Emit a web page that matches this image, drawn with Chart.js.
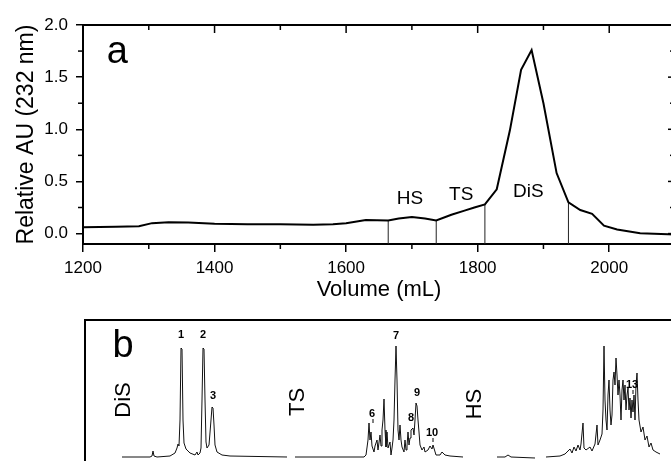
<!DOCTYPE html>
<html>
<head>
<meta charset="utf-8">
<script src="https://cdn.jsdelivr.net/npm/chart.js@4.4.1/dist/chart.umd.min.js"></script>
<style>
    html, body { margin: 0; padding: 0; background: #fff; overflow: hidden; width: 671px; height: 461px; }
    #wrapA { position: absolute; left: 0; top: 0; }
    #wrapB { position: absolute; left: 0; top: 300px; }
</style>
</head>
<body>
<div id="wrapA"><canvas id="elutionChart" width="676" height="310"></canvas></div>
<div id="wrapB"><canvas id="saxChart" width="676" height="175"></canvas></div>
<script>
// ---- panel a : gel filtration profile ----
const volume     = [1200, 1250, 1285, 1305, 1330, 1360, 1400, 1450, 1500, 1550, 1580, 1600, 1630, 1664, 1680, 1700, 1720, 1737, 1760, 1780, 1795, 1811, 1829, 1849, 1866, 1882, 1900, 1920, 1938, 1956, 1974, 1992, 2012, 2047, 2100];
const absorbance = [0.06, 0.065, 0.07, 0.1, 0.108, 0.105, 0.095, 0.09, 0.09, 0.085, 0.09, 0.1, 0.13, 0.125, 0.145, 0.16, 0.145, 0.125, 0.18, 0.22, 0.25, 0.28, 0.425, 0.99, 1.57, 1.76, 1.25, 0.58, 0.30, 0.226, 0.19, 0.076, 0.04, 0.003, -0.01];

const cutVolume = [1664, 1737, 1811, 1938];
const cutTop    = [0.125, 0.125, 0.28, 0.30];

const xTicks      = [1200, 1400, 1600, 1800, 2000];
const xMinorTicks = [1300, 1500, 1700, 1900, 2100];
const yTicks      = [0, 0.5, 1.0, 1.5, 2.0];
const yMinorTicks = [0.25, 0.75, 1.25, 1.75];

const aLabels = ['a', 'HS', 'TS', 'DiS'];
const aLabelX = [1252, 1697, 1775, 1877];
const aLabelY = [1.636, 0.284, 0.322, 0.351];

// ---- panel b : SAX-HPLC traces of the pooled fractions ----
const disX = [37, 65, 67, 68, 69, 72, 85, 90, 92, 93, 94, 95, 96, 97, 98, 99, 101, 105, 110, 112, 113, 115, 116, 117, 118, 119, 120, 121, 122, 124, 126, 127, 128, 129, 130, 132, 137, 145, 202];
const disY = [0, 0, 1, 6, 1, 0, 1, 4, 9, 13, 11, 37, 109, 108, 37, 14, 8, 4, 2, 5, 2, 4, 9, 57, 109, 108, 57, 15, 9, 12, 37, 50, 49, 32, 12, 5, 2, 1, 0];

const tsX = [210, 279, 281, 283, 284, 285, 286, 287, 289, 290, 292, 293, 295, 296, 297, 298, 299, 300, 301, 302, 303, 305, 306, 307, 308, 309, 310, 311, 312, 313, 314, 315, 316, 317, 319, 320, 321, 322, 323, 324, 325, 326, 328, 329, 330, 331, 332, 333, 334, 335, 337, 339, 340, 343, 345, 347, 348, 351, 355, 357, 360, 365, 378];
const tsY = [0, 0, 2, 17, 34, 17, 25, 11, 5, 11, 17, 7, 22, 11, 27, 37, 58, 27, 10, 25, 9, 15, 2, 9, 17, 37, 77, 111, 77, 27, 17, 32, 17, 10, 5, 17, 7, 11, 25, 12, 19, 27, 29, 22, 37, 54, 51, 37, 25, 12, 7, 10, 5, 7, 11, 8, 12, 2, 2, 5, 2, 1, 0];

const hsX = [412, 420, 423, 426, 450, 456, 461, 475, 480, 483, 485, 487, 489, 491, 493, 495, 496, 498, 499, 501, 505, 507, 510, 512, 513, 515, 517, 518, 519, 520, 521, 522, 523, 524, 525, 526, 527, 528, 529, 530, 531, 532, 533, 534, 535, 536, 537, 538, 539, 540, 541, 542, 543, 544, 545, 546, 547, 548, 549, 550, 551, 552, 553, 554, 556, 558, 560, 562, 564, 566, 568, 571, 575];
const hsY = [0, 0, 2, 0, -1, null, 0, 1, 3, 6, 8, 4, 10, 6, 12, 7, 13, 34, 9, 7, 10, 6, 13, 32, 12, 17, 23, 47, 111, 57, 37, 27, 62, 77, 47, 32, 42, 77, 85, 72, 99, 82, 62, 77, 62, 37, 67, 77, 57, 72, 47, 62, 69, 47, 59, 39, 57, 45, 62, 37, 72, 84, 57, 37, 25, 30, 17, 21, 10, 14, 7, 5, 3];

const peakLabels = ['1', '2', '3', '6', '7', '8', '9', '10', '13'];
const peakX      = [96, 118, 128, 287, 311, 326, 332, 347, 547];
const peakY      = [119, 119, 58, 40, 118, 36, 61, 21, 69];
const peakMarked = ['6', '10', '13'];

const poolLabels = ['DiS', 'TS', 'HS'];
const poolX      = [39, 213, 390];
const poolY      = [57, 55, 53];

const FONT = "'Liberation Sans', Arial, Helvetica, sans-serif";
const pts = (xs, ys) => xs.map((x, i) => ({ x, y: ys[i] }));

// ---------- panel a ----------
const frameA = {
    id: 'frameA',
    afterDraw(chart) {
        const { ctx, chartArea: a, scales: { x, y } } = chart;
        ctx.save();
        ctx.strokeStyle = '#000';
        ctx.lineWidth = 2;
        ctx.beginPath();
        ctx.moveTo(a.left - 1, a.top);
        ctx.lineTo(a.right, a.top);
        ctx.lineTo(a.right, a.bottom);
        ctx.stroke();

        ctx.lineWidth = 1.5;
        const seg = (x1, y1, x2, y2) => { ctx.beginPath(); ctx.moveTo(x1, y1); ctx.lineTo(x2, y2); ctx.stroke(); };
        xTicks.forEach(v => { const p = x.getPixelForValue(v); seg(p, a.top, p, a.top + 8); });
        xMinorTicks.forEach(v => {
            const p = x.getPixelForValue(v);
            seg(p, a.top, p, a.top + 5);
            seg(p, a.bottom, p, a.bottom + 5);
        });
        yTicks.forEach(v => { const p = y.getPixelForValue(v); seg(a.right - 7, p, a.right, p); });
        yMinorTicks.forEach(v => {
            const p = y.getPixelForValue(v);
            seg(a.left - 5, p, a.left, p);
            seg(a.right - 5, p, a.right, p);
        });

        ctx.fillStyle = '#000';
        ctx.textAlign = 'center';
        ctx.textBaseline = 'alphabetic';
        aLabels.forEach((t, i) => {
            ctx.font = (t === 'a' ? '38px ' : '19px ') + FONT;
            ctx.fillText(t, x.getPixelForValue(aLabelX[i]), y.getPixelForValue(aLabelY[i]));
        });
        ctx.restore();
    }
};

const cutSets = cutVolume.map((v, i) => ({
    data: [{ x: v, y: -0.1 }, { x: v, y: cutTop[i] }],
    showLine: true, borderColor: '#222', borderWidth: 1, pointRadius: 0
}));

new Chart(document.getElementById('elutionChart'), {
    type: 'scatter',
    data: {
        datasets: [{
            data: pts(volume, absorbance),
            showLine: true, borderColor: '#000', borderWidth: 2, pointRadius: 0, tension: 0
        }, ...cutSets]
    },
    options: {
        responsive: false,
        animation: false,
        layout: { padding: { top: 25, right: 1, left: 0, bottom: 0 } },
        plugins: { legend: { display: false }, tooltip: { enabled: false } },
        scales: {
            x: {
                type: 'linear', min: 1200, max: 2100,
                afterBuildTicks: s => { s.ticks = xTicks.map(v => ({ value: v })); },
                afterFit: s => { s.height = 66; },
                grid: { drawOnChartArea: false, tickLength: 8, color: '#000', lineWidth: 1.5 },
                border: { color: '#000', width: 2 },
                ticks: { color: '#000', font: { family: FONT, size: 17 }, padding: 6, maxRotation: 0, autoSkip: false, callback: v => String(v) },
                title: { display: true, text: 'Volume (mL)', color: '#000', font: { family: FONT, size: 22 }, padding: { top: 0, bottom: 7 } }
            },
            y: {
                min: -0.1, max: 2.0,
                afterBuildTicks: s => { s.ticks = yTicks.map(v => ({ value: v })); },
                afterFit: s => { s.width = 83; },
                grid: { drawOnChartArea: false, tickLength: 7, color: '#000', lineWidth: 1.5 },
                border: { color: '#000', width: 2 },
                ticks: { color: '#000', font: { family: FONT, size: 17 }, padding: 8, callback: v => v.toFixed(1) },
                title: { display: true, text: 'Relative AU (232 nm)', color: '#000', font: { family: FONT, size: 23 }, padding: { top: 13, bottom: 0 } }
            }
        }
    },
    plugins: [frameA]
});

// ---------- panel b ----------
const frameB = {
    id: 'frameB',
    afterDraw(chart) {
        const { ctx, chartArea: a, scales: { x, y } } = chart;
        ctx.save();
        ctx.strokeStyle = '#000';
        ctx.lineWidth = 2;
        ctx.beginPath();
        ctx.moveTo(a.left, a.bottom + 10);
        ctx.lineTo(a.left, a.top);
        ctx.lineTo(a.right, a.top);
        ctx.stroke();

        ctx.fillStyle = '#000';
        ctx.textAlign = 'center';
        ctx.textBaseline = 'alphabetic';
        ctx.font = '38px ' + FONT;
        ctx.fillText('b', x.getPixelForValue(38), y.getPixelForValue(100));

        ctx.font = 'bold 11px ' + FONT;
        ctx.lineWidth = 1;
        peakLabels.forEach((t, i) => {
            const px = x.getPixelForValue(peakX[i]);
            const py = y.getPixelForValue(peakY[i]);
            ctx.fillText(t, px, py);
            if (peakMarked.includes(t)) {
                ctx.beginPath(); ctx.moveTo(px + 1, py + 2); ctx.lineTo(px + 1, py + 6); ctx.stroke();
            }
        });

        ctx.font = '22px ' + FONT;
        ctx.textBaseline = 'middle';
        poolLabels.forEach((t, i) => {
            ctx.save();
            ctx.translate(x.getPixelForValue(poolX[i]), y.getPixelForValue(poolY[i]));
            ctx.rotate(-Math.PI / 2);
            ctx.fillText(t, 0, 0);
            ctx.restore();
        });
        ctx.restore();
    }
};

const trace = (xs, ys) => ({
    data: pts(xs, ys), showLine: true, spanGaps: false,
    borderColor: '#111', borderWidth: 1, pointRadius: 0, tension: 0
});

new Chart(document.getElementById('saxChart'), {
    type: 'scatter',
    data: { datasets: [trace(disX, disY), trace(tsX, tsY), trace(hsX, hsY)] },
    options: {
        responsive: false,
        animation: false,
        layout: { padding: { top: 20, right: 1, left: 85, bottom: 5 } },
        plugins: { legend: { display: false }, tooltip: { enabled: false } },
        scales: {
            x: { type: 'linear', min: 0, max: 590, display: false },
            y: { min: -13, max: 137, display: false }
        }
    },
    plugins: [frameB]
});
</script>
</body>
</html>
